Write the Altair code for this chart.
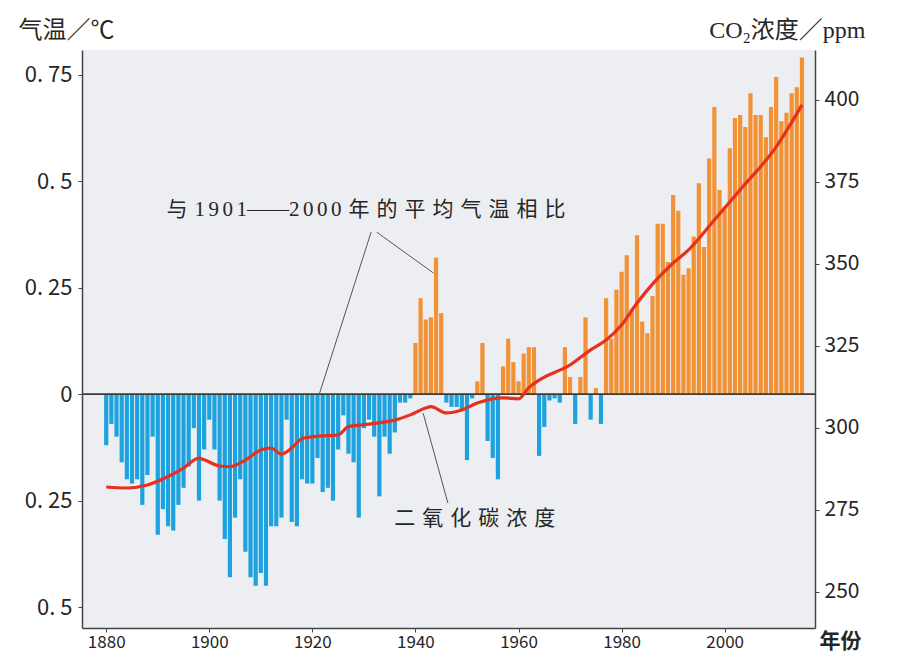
import altair as alt
import pandas as pd

# ---------------- data ----------------
years = list(range(1880, 2016))
temp = [
    -0.12, -0.07, -0.10, -0.16, -0.20, -0.21, -0.20, -0.26, -0.19, -0.10,   # 1880s
    -0.33, -0.27, -0.31, -0.32, -0.26, -0.22, -0.17, -0.08, -0.25, -0.13,   # 1890s
    -0.06, -0.13, -0.25, -0.34, -0.43, -0.29, -0.20, -0.37, -0.43, -0.45,   # 1900s
    -0.42, -0.45, -0.31, -0.31, -0.29, -0.06, -0.30, -0.31, -0.20, -0.21,   # 1910s
    -0.21, -0.15, -0.23, -0.22, -0.25, -0.13, -0.05, -0.14, -0.16, -0.29,   # 1920s
    -0.08, -0.06, -0.10, -0.24, -0.10, -0.14, -0.09, -0.02, -0.02, -0.01,   # 1930s
    0.12, 0.225, 0.175, 0.18, 0.32, 0.19, -0.02, -0.03, -0.03, -0.04,       # 1940s
    -0.155, -0.01, 0.03, 0.12, -0.11, -0.15, -0.20, 0.065, 0.13, 0.075,     # 1950s
    0.03, 0.095, 0.11, 0.11, -0.145, -0.077, -0.015, -0.01, -0.02, 0.11,    # 1960s
    0.04, -0.07, 0.04, 0.18, -0.06, 0.014, -0.07, 0.225, 0.13, 0.245,       # 1970s
    0.287, 0.326, 0.20, 0.373, 0.17, 0.143, 0.23, 0.40, 0.40, 0.31,         # 1980s
    0.467, 0.43, 0.28, 0.295, 0.37, 0.495, 0.345, 0.553, 0.674, 0.479,      # 1990s
    0.44, 0.577, 0.648, 0.655, 0.627, 0.706, 0.655, 0.655, 0.603, 0.674,    # 2000s
    0.744, 0.64, 0.66, 0.706, 0.72, 0.79,                                   # 2010s
]

co2_years = [1880, 1884, 1888, 1892, 1895, 1898, 1899, 1902, 1904, 1907,
             1910, 1912, 1914, 1916, 1918, 1921, 1925, 1927, 1931, 1936,
             1939, 1942, 1943, 1946, 1949, 1952, 1957, 1960, 1962, 1964,
             1970, 1974, 1977, 1980, 1983, 1990, 1993, 1998, 2003, 2010, 2015]
co2_ppm = [282.0, 281.7, 282.6, 285.2, 287.8, 290.8, 290.3, 288.4, 288.2, 290.2,
           293.3, 293.9, 292.0, 293.9, 296.8, 297.5, 297.9, 300.4, 301.2, 302.4,
           304.0, 306.1, 306.5, 304.6, 305.5, 307.6, 309.2, 308.9, 312.3, 314.6,
           319.2, 323.8, 326.8, 331.4, 338.1, 350.3, 354.3, 363.4, 372.6, 385.7, 398.5]

x_ticks = [1880, 1900, 1920, 1940, 1960, 1980, 2000]
left_ticks = [-0.5, -0.25, 0, 0.25, 0.5, 0.75]
right_ticks = [250, 275, 300, 325, 350, 375, 400]

left_title = "气温／℃"
right_title = "CO₂浓度／ppm"
x_title = "年份"

SP = "\u2004"   # spacing between characters (letter-spacing imitation)
DS = "\u2006"   # thinner spacing between digits
ann_labels = [
    "与" + SP + DS.join("1901") + "——" + DS.join("2000") + SP + SP.join("年的平均气温相比"),
    SP.join("二氧化碳浓度"),
]
ann_years = [1930.4, 1951.5]
ann_vals = [0.432, -0.293]

lead_x1 = [1931.4, 1932.5, 1941.5]
lead_y1 = [0.38, 0.38, -0.045]
lead_x2 = [1921.4, 1943.5, 1946.3]
lead_y2 = [0.002, 0.284, -0.256]

# ---------------- styles ----------------
BLUE = "#1ca2de"
ORANGE = "#f29236"
RED = "#e6311f"
TXT = "#262626"
FONT = "Noto Sans CJK SC"
SERIF = "Liberation Serif, Noto Sans CJK SC"

W, H = 733, 578
XS = alt.Scale(domain=[1876.27, 2016.56], nice=False, zero=False)
TS = alt.Scale(domain=[-0.549, 0.8075], nice=False, zero=False)
CS = alt.Scale(domain=[239.02, 415.24], nice=False, zero=False)

XAXIS = alt.Axis(
    values=x_ticks, format="d", title=x_title, grid=False, orient="bottom",
    domainColor="#444", domainWidth=1.5, tickColor="#444", tickSize=4,
    labelFont=FONT, labelFontSize=17, labelColor=TXT, labelPadding=2,
    titleFont=SERIF, titleFontSize=21, titleFontWeight="bold", titleColor=TXT,
    titleX=758, titleY=13, titleAlign="center", titleBaseline="middle")

tdf = pd.DataFrame({"year": years, "temp": temp})
cdf = pd.DataFrame({"year": co2_years, "ppm": co2_ppm})
adf = pd.DataFrame({"year": ann_years, "val": ann_vals, "label": ann_labels})
ldf = pd.DataFrame({"x1": lead_x1, "y1": lead_y1, "x2": lead_x2, "y2": lead_y2})
zdf = pd.DataFrame({"v": [0.0]})

bars = alt.Chart(tdf).mark_bar(width=4.2).encode(
    x=alt.X("year:Q", scale=XS, axis=XAXIS),
    y=alt.Y("temp:Q", scale=TS, axis=alt.Axis(
        values=left_ticks, title=left_title, grid=False,
        labelExpr="replace(format(abs(datum.value), '~g'), '.', '. ')",
        domainColor="#444", domainWidth=1.5, tickColor="#444", tickSize=4,
        labelFont=FONT, labelFontSize=22, labelColor=TXT, labelPadding=6,
        titleFont=SERIF, titleFontSize=24, titleFontWeight="normal", titleColor=TXT,
        titleAngle=0, titleX=-64, titleY=-20, titleAlign="left", titleBaseline="middle")),
    y2=alt.datum(0),
    color=alt.condition("datum.temp >= 0", alt.value(ORANGE), alt.value(BLUE)),
)

zero = alt.Chart(zdf).mark_rule(color="#3a3a3a", strokeWidth=1.8).encode(
    y=alt.Y("v:Q", scale=TS, axis=None)
)

leads = alt.Chart(ldf).mark_rule(color="#555", strokeWidth=1).encode(
    x=alt.X("x1:Q", scale=XS, axis=XAXIS),
    y=alt.Y("y1:Q", scale=TS, axis=None),
    x2="x2:Q",
    y2="y2:Q",
)

texts = alt.Chart(adf).mark_text(font=SERIF, fontSize=21, color=TXT).encode(
    x=alt.X("year:Q", scale=XS, axis=XAXIS),
    y=alt.Y("val:Q", scale=TS, axis=None),
    text="label:N",
)

line = alt.Chart(cdf).mark_line(color=RED, strokeWidth=3.2, interpolate="monotone").encode(
    x=alt.X("year:Q", scale=XS, axis=XAXIS),
    y=alt.Y("ppm:Q", scale=CS, axis=alt.Axis(
        orient="right", values=right_ticks, title=right_title, grid=False,
        domainColor="#444", domainWidth=1.5, tickColor="#444", tickSize=4,
        labelFont=FONT, labelFontSize=21, labelColor=TXT, labelPadding=5,
        titleFont=SERIF, titleFontSize=24, titleFontWeight="normal", titleColor=TXT,
        titleAngle=0, titleX=50, titleY=-20, titleAlign="right", titleBaseline="middle")),
)

chart = alt.layer(bars, zero, leads, texts, line).resolve_scale(
    y="independent"
).properties(
    width=W, height=H,
    autosize=alt.AutoSizeParams(type="none"),
    padding={"left": 74, "top": 42, "right": 78, "bottom": 28},
    background="white",
).configure_view(fill="#eceef1", stroke=None)

chart.save("out.html", embed_options={"renderer": "svg", "actions": False})
